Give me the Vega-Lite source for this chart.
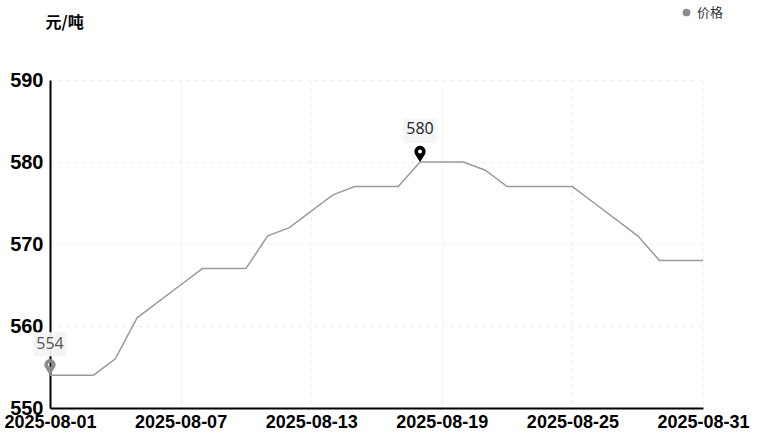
{
  "$schema": "https://vega.github.io/schema/vega-lite/v6.json",
  "width": 653,
  "height": 328,
  "autosize": {"type": "none"},
  "padding": {"left": 50, "top": 80, "right": 55, "bottom": 32},
  "background": "white",
  "config": {"view": {"stroke": null}, "font": "Liberation Sans"},
  "data": {
    "values": [
      {"date": "2025-08-01", "price": 554},
      {"date": "2025-08-02", "price": 554},
      {"date": "2025-08-03", "price": 554},
      {"date": "2025-08-04", "price": 556},
      {"date": "2025-08-05", "price": 561},
      {"date": "2025-08-06", "price": 563},
      {"date": "2025-08-07", "price": 565},
      {"date": "2025-08-08", "price": 567},
      {"date": "2025-08-09", "price": 567},
      {"date": "2025-08-10", "price": 567},
      {"date": "2025-08-11", "price": 571},
      {"date": "2025-08-12", "price": 572},
      {"date": "2025-08-13", "price": 574},
      {"date": "2025-08-14", "price": 576},
      {"date": "2025-08-15", "price": 577},
      {"date": "2025-08-16", "price": 577},
      {"date": "2025-08-17", "price": 577},
      {"date": "2025-08-18", "price": 580},
      {"date": "2025-08-19", "price": 580},
      {"date": "2025-08-20", "price": 580},
      {"date": "2025-08-21", "price": 579},
      {"date": "2025-08-22", "price": 577},
      {"date": "2025-08-23", "price": 577},
      {"date": "2025-08-24", "price": 577},
      {"date": "2025-08-25", "price": 577},
      {"date": "2025-08-26", "price": 575},
      {"date": "2025-08-27", "price": 573},
      {"date": "2025-08-28", "price": 571},
      {"date": "2025-08-29", "price": 568},
      {"date": "2025-08-30", "price": 568},
      {"date": "2025-08-31", "price": 568}
    ]
  },
  "encoding": {
    "x": {
      "field": "date",
      "type": "temporal",
      "scale": {
        "type": "utc",
        "domain": [
          {"year": 2025, "month": 8, "date": 1, "utc": true},
          {"year": 2025, "month": 8, "date": 31, "utc": true}
        ]
      },
      "axis": {
        "title": null,
        "format": "%Y-%m-%d",
        "values": [
          {"year": 2025, "month": 8, "date": 1, "utc": true},
          {"year": 2025, "month": 8, "date": 7, "utc": true},
          {"year": 2025, "month": 8, "date": 13, "utc": true},
          {"year": 2025, "month": 8, "date": 19, "utc": true},
          {"year": 2025, "month": 8, "date": 25, "utc": true},
          {"year": 2025, "month": 8, "date": 31, "utc": true}
        ],
        "labelFontSize": 18,
        "labelFontWeight": "bold",
        "labelColor": "#000000",
        "labelPadding": 5,
        "labelFlush": false,
        "labelOverlap": false,
        "ticks": false,
        "domainColor": "#000000",
        "domainWidth": 2,
        "grid": true,
        "gridColor": "#efefef",
        "gridDash": [4, 4]
      }
    },
    "y": {
      "field": "price",
      "type": "quantitative",
      "scale": {"domain": [550, 590], "nice": false, "zero": false},
      "axis": {
        "values": [550, 560, 570, 580, 590],
        "title": "元/吨",
        "titleAngle": 0,
        "titleAlign": "left",
        "titleBaseline": "middle",
        "titleX": -5,
        "titleY": -58,
        "titleFont": "Noto Sans CJK SC",
        "titleFontSize": 16,
        "titleFontWeight": "bold",
        "titleColor": "#000000",
        "labelFontSize": 20,
        "labelFontWeight": "bold",
        "labelColor": "#000000",
        "labelPadding": 7,
        "ticks": false,
        "domainColor": "#000000",
        "domainWidth": 2,
        "grid": true,
        "gridColor": "#efefef",
        "gridDash": [4, 4]
      }
    }
  },
  "layer": [
    {
      "mark": {"type": "line", "strokeWidth": 1.5},
      "encoding": {
        "color": {
          "datum": "价格",
          "scale": {"range": ["#9a9a9a"]},
          "legend": {
            "title": null,
            "orient": "none",
            "legendX": 630,
            "legendY": -74,
            "symbolType": "circle",
            "symbolSize": 60,
            "symbolFillColor": "#8a8a8a",
            "symbolStrokeWidth": 0,
            "labelFont": "Noto Sans CJK SC",
            "labelFontSize": 13,
            "labelColor": "#333333"
          }
        }
      }
    },
    {
      "transform": [{"filter": {"or": [
        {"field": "date", "equal": {"year": 2025, "month": 8, "date": 1, "utc": true}},
        {"field": "date", "equal": {"year": 2025, "month": 8, "date": 18, "utc": true}}
      ]}}],
      "mark": {
        "type": "point",
        "filled": true,
        "size": 400,
        "color": "#f4f4f4",
        "opacity": 0.95,
        "strokeWidth": 0,
        "shape": "M-1.65,-4.3 L1.65,-4.3 L1.65,-1.9 L-1.65,-1.9 Z"
      }
    },
    {
      "transform": [{"filter": {"field": "date", "equal": {"year": 2025, "month": 8, "date": 1, "utc": true}}}],
      "mark": {
        "type": "point",
        "filled": true,
        "size": 260,
        "color": "#8a8a8a",
        "opacity": 1,
        "shape": "M0,0 L-0.6,-0.94 A0.7,0.7 0 1 1 0.6,-0.94 Z M0,-1.55 A0.25,0.25 0 1 0 0,-1.05 A0.25,0.25 0 1 0 0,-1.55 Z"
      }
    },
    {
      "transform": [{"filter": {"field": "date", "equal": {"year": 2025, "month": 8, "date": 18, "utc": true}}}],
      "mark": {
        "type": "point",
        "filled": true,
        "size": 260,
        "color": "#000000",
        "opacity": 1,
        "shape": "M0,0 L-0.6,-0.94 A0.7,0.7 0 1 1 0.6,-0.94 Z M0,-1.55 A0.25,0.25 0 1 0 0,-1.05 A0.25,0.25 0 1 0 0,-1.55 Z"
      }
    },
    {
      "transform": [{"filter": {"field": "date", "equal": {"year": 2025, "month": 8, "date": 1, "utc": true}}}],
      "mark": {"type": "text", "dy": -31, "font": "Open Sans", "fontSize": 16, "color": "#555555"},
      "encoding": {"text": {"field": "price", "type": "quantitative"}}
    },
    {
      "transform": [{"filter": {"field": "date", "equal": {"year": 2025, "month": 8, "date": 18, "utc": true}}}],
      "mark": {"type": "text", "dy": -33, "font": "Open Sans", "fontSize": 16, "color": "#222222"},
      "encoding": {"text": {"field": "price", "type": "quantitative"}}
    }
  ]
}
